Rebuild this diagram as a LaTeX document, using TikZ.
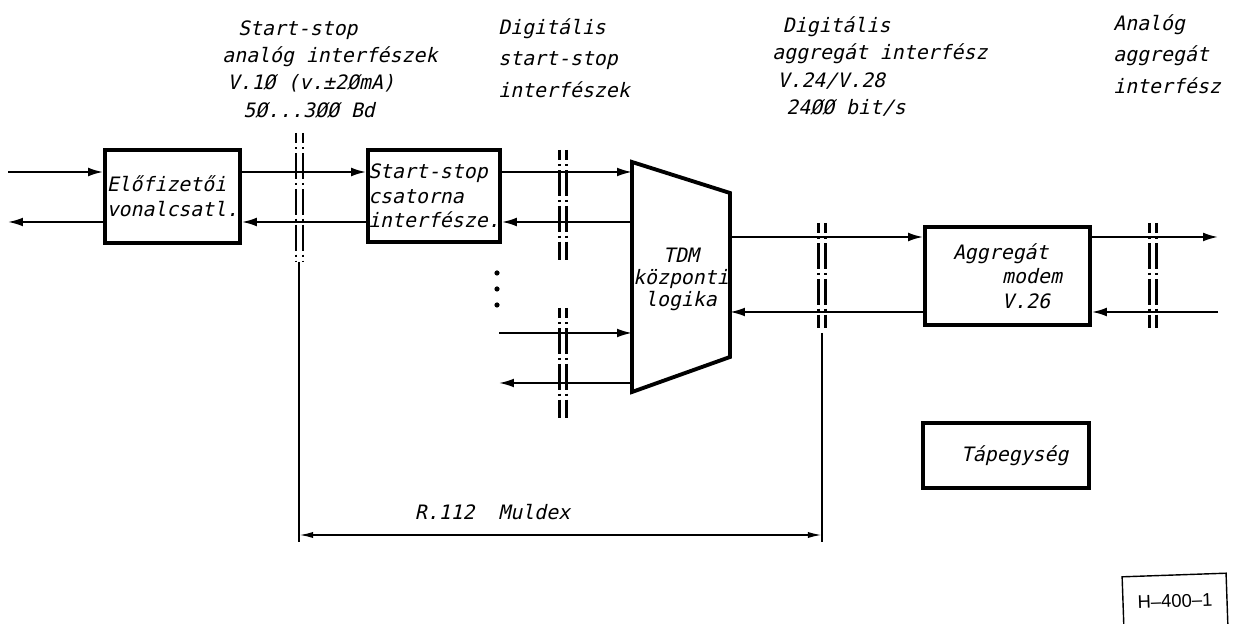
\documentclass[tikz,border=0pt]{standalone}
\usepackage{fontspec}
\setmainfont{DejaVu Sans Mono}
\newfontfamily\letr{DejaVu Sans Mono}[FakeSlant=0.22]
\newfontfamily\stamp{Liberation Sans}
\usetikzlibrary{arrows.meta,positioning,calc}
\newcommand\pxu{0.02cm}
\tikzset{
  >={Latex[length=8.5pt,width=5pt]},
  blk/.style={draw,line width=2.2pt,inner sep=0pt,align=left,font=\letr\fontsize{11.3}{14}\selectfont},
  sig/.style={->,line width=1.1pt},
  ifc/.style={line width=1.3pt,dash pattern=on 14.7pt off 2.3pt on 1.1pt off 2.3pt,dash phase=9pt},
  dimln/.style={line width=1pt},
  dimarr/.style={{Latex[length=8pt,width=3.5pt]}-{Latex[length=8pt,width=3.5pt]},line width=1pt},
  hdr/.style={inner sep=0pt,align=left,font=\letr\fontsize{11.3}{15.6}\selectfont},
  hdrw/.style={hdr,font=\letr\fontsize{11.3}{18}\selectfont},
  lab/.style={inner sep=0pt,font=\letr\fontsize{11.3}{12.5}\selectfont}
}
\newcommand\ifpair[3]{\foreach \dx in {-3.5,3.5} \draw[ifc] ({#1+\dx},#2) -- ({#1+\dx},#3);}

\begin{document}
\begin{tikzpicture}[x=\pxu,y=-\pxu]
  \useasboundingbox (0,0) rectangle (1242,624);
  % signal rows
  \coordinate (r1) at (0,172); \coordinate (r2) at (0,222);
  \coordinate (r3) at (0,237); \coordinate (r4) at (0,312);
  \coordinate (r5) at (0,333); \coordinate (r6) at (0,383);
  \coordinate (lin) at (8,0); \coordinate (lft) at (499,0);
  \coordinate (rgt) at (1218,0);
  \coordinate (tdmL) at (632,0); \coordinate (tdmR) at (730,0);

  \node[hdr,anchor=north west] (h1) at (222,20) {\hspace*{9pt}Start-stop\\analóg interfészek\\\hspace*{3pt}V.1Ø (v.±2ØmA)\\\hspace*{12pt}5Ø...3ØØ Bd};
  \node[hdrw,anchor=north west] (h2) at (498,18) {Digitális\\start-stop\\interfészek};
  \node[hdr,anchor=north west] (h3) at (772,16) {\hspace*{6pt}Digitális\\aggregát interfész\\\hspace*{3pt}V.24/V.28\\\hspace*{8pt}24ØØ bit/s};
  \node[hdrw,anchor=north west] (h4) at (1113,14) {Analóg\\aggregát\\interfész};

  \node[blk,minimum width=135*\pxu,minimum height=93*\pxu] (elo) at (172.5,196.5) {Előfizetői\\vonalcsatl.};
  \node[blk,minimum width=132*\pxu,minimum height=92*\pxu] (ss) at (434,196) {Start-stop\\csatorna\\interfésze.};
  \node[blk,minimum width=165*\pxu,minimum height=98*\pxu] (mod) at (1007.5,276) {Aggregát\\\hspace*{28pt}modem\\\hspace*{28pt}V.26};
  \node[blk,minimum width=166*\pxu,minimum height=65*\pxu] (tap) at (1006,455.5) {\hspace*{10pt}Tápegység};

  \draw[line width=2.2pt,line join=miter] (632,162) -- (730,193) -- (730,357) -- (632,392) -- cycle;
  \node[lab,align=center] (tdm) at (681,279) {TDM\\központi\\logika};

  \draw[sig] (lin |- r1) -- (elo.west |- r1);
  \draw[sig] (elo.west |- r2) -- (lin |- r2);
  \draw[sig] (elo.east |- r1) -- (ss.west |- r1);
  \draw[sig] (ss.west |- r2) -- (elo.east |- r2);
  \draw[sig] (ss.east |- r1) -- (tdmL |- r1);
  \draw[sig] (tdmL |- r2) -- (ss.east |- r2);
  \draw[sig] (lft |- r5) -- (tdmL |- r5);
  \draw[sig] (tdmL |- r6) -- (lft |- r6);
  \draw[sig] (tdmR |- r3) -- (mod.west |- r3);
  \draw[sig] (mod.west |- r4) -- (tdmR |- r4);
  \draw[sig] (mod.east |- r3) -- (rgt |- r3);
  \draw[sig] (rgt |- r4) -- (mod.east |- r4);

  \foreach \y in {273,289,305} \fill (497,\y) circle (2.6);

  \ifpair{299.5}{133}{262}
  \ifpair{563}{150}{260}
  \ifpair{563}{308}{418}
  \ifpair{822}{223}{328}
  \ifpair{1153}{223}{328}

  \coordinate (m1) at (299,535); \coordinate (m2) at (822,535);
  \draw[dimln] (299,262) -- (299,542);
  \draw[dimln] (822,333) -- (822,542);
  \draw[dimarr] (m1) -- node[lab,pos=.37,above=8pt] (mx) {R.112\ \ Muldex} (m2);

  \node[draw,line width=0.8pt,minimum width=104*\pxu,minimum height=52*\pxu,font=\stamp\fontsize{10.5}{12}\selectfont,rotate=2] (hno) at (1175,601) {H–400–1};
\end{tikzpicture}
\end{document}
